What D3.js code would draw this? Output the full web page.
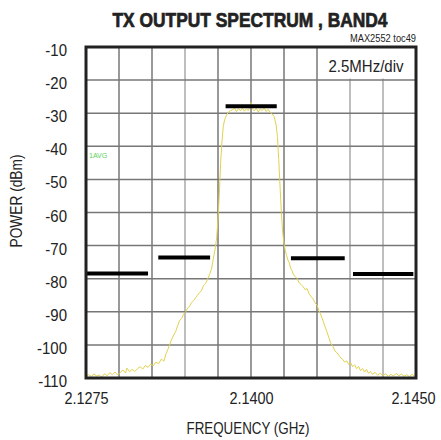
<!DOCTYPE html>
<html>
<head>
<meta charset="utf-8">
<script src="https://cdn.jsdelivr.net/npm/d3@7"></script>
<style>
  body { margin: 0; background: #fff; }
  svg text { font-family: "Liberation Sans", Arial, sans-serif; fill: #222; }
</style>
</head>
<body>
<div id="chart"></div>
<script>
//DATA
// frequency offset from 2.1400 GHz, in MHz (2.5MHz/div)
const xTickValues = [-12.5, 0, 12.5];
const xTickLabels = ["2.1275", "2.1400", "2.1450"];
const yTickValues = [-10, -20, -30, -40, -50, -60, -70, -80, -90, -100, -110];

// measured spectrum trace
const specMHz = [
  -12.5, -12.3, -12.1, -11.9, -11.7, -11.5, -11.3, -11.1, -10.9, -10.7,
  -10.5, -10.3, -10.1, -9.9, -9.7, -9.5, -9.4, -9.2, -9.0, -8.8,
  -8.6, -8.4, -8.2, -8.0, -7.8, -7.6, -7.4, -7.2, -7.0, -6.8,
  -6.6, -6.45, -6.3, -6.15, -6.0, -5.85, -5.7, -5.55, -5.4, -5.25,
  -5.1, -4.95, -4.8, -4.65, -4.5, -4.35, -4.2, -4.05, -3.9, -3.75,
  -3.6, -3.45, -3.3, -3.15, -3.0, -2.9, -2.8, -2.7, -2.6, -2.5,
  -2.4, -2.3, -2.2, -2.1, -2.0, -1.85, -1.7, -1.55, -1.4, -1.25,
  -1.1, -0.95, -0.8, -0.65, -0.5, -0.35, -0.2, -0.1, 0.0, 0.1,
  0.25, 0.4, 0.55, 0.7, 0.85, 1.0, 1.15, 1.3, 1.45, 1.6,
  1.75, 1.9, 2.0, 2.1, 2.2, 2.3, 2.4, 2.5, 2.6, 2.7,
  2.8, 2.9, 3.0, 3.1, 3.2, 3.35, 3.5, 3.65, 3.8, 3.95,
  4.1, 4.25, 4.4, 4.55, 4.7, 4.85, 5.0, 5.15, 5.3, 5.45,
  5.6, 5.75, 5.9, 6.05, 6.2, 6.35, 6.5, 6.65, 6.8, 6.95,
  7.1, 7.25, 7.4, 7.55, 7.7, 7.85, 8.0, 8.15, 8.3, 8.45,
  8.6, 8.75, 8.9, 9.05, 9.2, 9.4, 9.6, 9.8, 10.0, 10.2,
  10.4, 10.6, 10.8, 11.0, 11.2, 11.4, 11.6, 11.8, 12.0, 12.2,
  12.4, 12.5
];
const specDbm = [
  -109.6, -109.0, -109.5, -108.8, -109.4, -109.1, -109.7, -108.7, -109.3, -108.4,
  -109.0, -108.2, -109.1, -108.3, -107.6, -108.5, -107.0, -108.1, -107.4, -108.0,
  -107.2, -106.6, -107.3, -106.2, -106.8, -105.8, -106.3, -105.2, -105.7, -104.3,
  -104.9, -102.8, -101.4, -99.8, -98.2, -97.0, -95.9, -94.1, -92.6, -92.0,
  -90.6, -90.1, -88.9, -88.3, -87.2, -86.6, -85.8, -85.0, -84.2, -83.6,
  -82.1, -81.5, -80.3, -78.8, -77.2, -75.0, -72.8, -70.6, -67.5, -62.0,
  -54.5, -45.0, -38.5, -34.0, -32.0, -30.6, -29.6, -29.2, -29.0, -28.4,
  -29.5, -28.6, -29.3, -28.5, -29.4, -28.7, -29.2, -28.3, -26.8, -28.6,
  -29.3, -28.5, -29.6, -28.7, -29.2, -28.4, -29.5, -28.8, -29.7, -30.2,
  -31.0, -33.5, -37.0, -44.0, -52.0, -60.0, -66.0, -69.5, -71.5, -73.0,
  -74.4, -75.2, -76.8, -77.5, -78.6, -79.4, -80.0, -81.3, -81.8, -82.4,
  -83.3, -83.0, -84.5, -85.4, -86.1, -87.3, -88.0, -89.6, -91.0, -92.6,
  -94.4, -96.0, -97.8, -99.6, -100.4, -101.8, -102.3, -103.1, -103.9, -104.4,
  -105.2, -104.8, -105.9, -105.4, -106.6, -106.0, -107.2, -106.5, -107.8, -107.1,
  -108.2, -107.4, -108.6, -108.0, -108.9, -108.3, -109.2, -108.5, -109.3, -108.7,
  -109.5, -108.9, -109.4, -108.6, -109.3, -108.8, -109.5, -109.0, -109.6, -108.9,
  -109.4, -109.2
];

// ACLR limit lines: start MHz, end MHz, level dBm
const maskStart = [-12.5, -7.1, -2.0, 2.95, 7.65];
const maskEnd   = [-7.8, -3.1, 1.95, 7.1, 12.3];
const maskLevel = [-78.4, -73.6, -27.9, -73.8, -78.6];

//CHART
const width = 441;
const height = 440;
const margin = { top: 47, right: 25, bottom: 62, left: 86 };
const plotW = width - margin.left - margin.right;
const plotH = height - margin.top - margin.bottom;

//narrow the glyphs to look like a condensed face
function squeeze(sel, factor){
  sel.each(function(){
    const len = this.getComputedTextLength();
    d3.select(this)
      .attr("textLength", len * factor)
      .attr("lengthAdjust", "spacingAndGlyphs");
  });
}

const svg = d3.select("#chart")
  .append("svg")
  .attr("width", width)
  .attr("height", height);

const x = d3.scaleLinear().domain([-12.5, 12.5]).range([0, plotW]);
const y = d3.scaleLinear().domain([-110, -10]).range([plotH, 0]);

const g = svg.append("g")
  .attr("transform", `translate(${margin.left},${margin.top})`);

//grid, 10 divisions each way
const gridX = d3.range(11).map(i => -12.5 + i * 2.5);
const lightCols = [3, 8, 9];
g.append("g")
  .selectAll("line")
  .data(gridX)
  .join("line")
  .attr("x1", d => x(d)).attr("x2", d => x(d))
  .attr("y1", 0).attr("y2", plotH)
  .attr("stroke", (d, i) => (lightCols.includes(i) ? "#a8a8a8" : "#777"))
  .attr("stroke-width", 1.5);

g.append("g")
  .selectAll("line")
  .data(yTickValues)
  .join("line")
  .attr("x1", 0).attr("x2", plotW)
  .attr("y1", d => y(d)).attr("y2", d => y(d))
  .attr("stroke", "#777")
  .attr("stroke-width", 1.5);

//white box behind the span label
g.append("rect")
  .attr("x", 232).attr("y", 0)
  .attr("width", plotW - 232).attr("height", y(-20) - 1.5)
  .attr("fill", "#fff");

g.append("text")
  .attr("x", 280).attr("y", 25)
  .attr("text-anchor", "middle")
  .attr("font-size", 16)
  .attr("textLength", 75)
  .attr("lengthAdjust", "spacingAndGlyphs")
  .text("2.5MHz/div");

g.append("text")
  .attr("x", 3).attr("y", y(-43.5))
  .attr("font-size", 7)
  .style("fill", "#5ccf5c")
  .text("1AVG");

//spectrum trace
svg.append("clipPath").attr("id", "clip")
  .append("rect").attr("width", plotW).attr("height", plotH);

const trace = specMHz.map((f, i) => ({ f: f, v: specDbm[i] }));
g.append("path")
  .datum(trace)
  .attr("clip-path", "url(#clip)")
  .attr("fill", "none")
  .attr("stroke", "#e2d24e")
  .attr("stroke-width", 1)
  .attr("d", d3.line().x(d => x(d.f)).y(d => y(d.v)));

//mask lines
g.append("g")
  .selectAll("line")
  .data(maskLevel)
  .join("line")
  .attr("x1", (d, i) => x(maskStart[i]) + 1)
  .attr("x2", (d, i) => x(maskEnd[i]))
  .attr("y1", d => y(d)).attr("y2", d => y(d))
  .attr("stroke", "#000")
  .attr("stroke-width", 4);

//frame
g.append("rect")
  .attr("width", plotW).attr("height", plotH)
  .attr("fill", "none")
  .attr("stroke", "#222")
  .attr("stroke-width", 3);

//axes
const yAxis = d3.axisLeft(y).tickValues(yTickValues)
  .tickFormat(d => String(d)).tickSize(0).tickPadding(19);
g.append("g").call(yAxis)
  .call(a => a.select(".domain").remove())
  .selectAll("text")
  .attr("font-size", 17)
  .attr("font-family", "Liberation Sans, Arial, sans-serif")
  .attr("dy", "0.5em")
  .style("fill", "#222")
  .call(squeeze, 0.88);

const xAxis = d3.axisBottom(x).tickValues(xTickValues)
  .tickFormat((d, i) => xTickLabels[i]).tickSize(0).tickPadding(14);
g.append("g")
  .attr("transform", `translate(0,${plotH})`)
  .call(xAxis)
  .call(a => a.select(".domain").remove())
  .selectAll("text")
  .attr("font-size", 17)
  .attr("font-family", "Liberation Sans, Arial, sans-serif")
  .attr("dx", (d, i) => (i === xTickValues.length - 1 ? -3 : 0))
  .style("fill", "#222")
  .call(squeeze, 0.85);

//titles
svg.append("text")
  .attr("x", 250).attr("y", 27)
  .attr("text-anchor", "middle")
  .attr("font-size", 20)
  .attr("font-weight", "bold")
  .attr("stroke", "#222")
  .attr("stroke-width", 0.7)
  .attr("textLength", 275)
  .attr("lengthAdjust", "spacingAndGlyphs")
  .text("TX OUTPUT SPECTRUM , BAND4");

svg.append("text")
  .attr("x", 416).attr("y", 42)
  .attr("text-anchor", "end")
  .attr("font-size", 10)
  .attr("textLength", 66)
  .attr("lengthAdjust", "spacingAndGlyphs")
  .text("MAX2552 toc49");

svg.append("text")
  .attr("x", 248).attr("y", 434)
  .attr("text-anchor", "middle")
  .attr("font-size", 17)
  .attr("textLength", 123)
  .attr("lengthAdjust", "spacingAndGlyphs")
  .text("FREQUENCY (GHz)");

svg.append("text")
  .attr("transform", `translate(22,201) rotate(-90)`)
  .attr("text-anchor", "middle")
  .attr("font-size", 17)
  .attr("textLength", 93)
  .attr("lengthAdjust", "spacingAndGlyphs")
  .text("POWER (dBm)");
</script>
</body>
</html>
